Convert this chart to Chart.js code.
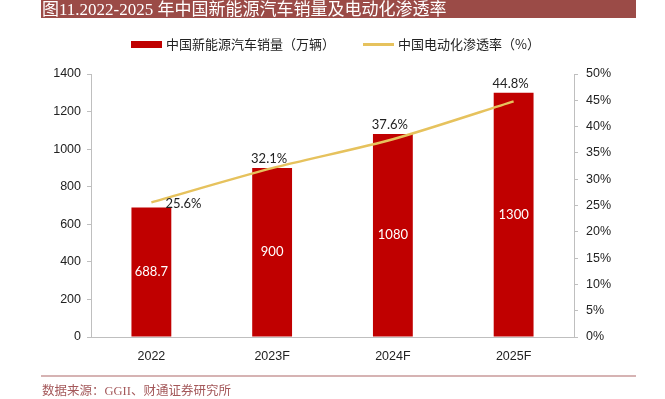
<!DOCTYPE html>
<html>
<head>
<meta charset="utf-8">
<script src="https://cdn.jsdelivr.net/npm/chart.js@4.4.0/dist/chart.umd.min.js"></script>
<style>
  html, body { margin: 0; padding: 0; background: #fff; }
  #wrap { width: 665px; height: 399px; position: relative; }
</style>
</head>
<body>
<div id="wrap"><canvas id="myChart" width="665" height="399"></canvas></div>
<script>
//Chart data
var years = ["2022", "2023F", "2024F", "2025F"];
var salesData = [688.7, 900, 1080, 1300];
var rateData = [25.6, 32.1, 37.6, 44.8];
var salesLabel = "中国新能源汽车销量（万辆）";
var rateLabel = "中国电动化渗透率（%）";
var titleText = "图11.2022-2025 年中国新能源汽车销量及电动化渗透率";
var sourceText = "数据来源：GGII、财通证券研究所";

var barColor = "#c00000";
var lineColor = "#e6c25d";
var axisColor = "#bfbfbf";

//Draws title bar, legend, source line and value labels
var decorPlugin = {
  id: "decor",
  afterDraw: function(chart){
    var ctx = chart.ctx;
    ctx.save();

    //title bar
    ctx.fillStyle = "#9b4b47";
    ctx.fillRect(41, 0, 595, 18);
    ctx.fillStyle = "#ffffff";
    ctx.font = "17px 'Liberation Serif', 'Noto Sans CJK SC', serif";
    ctx.textBaseline = "alphabetic";
    ctx.textAlign = "left";
    ctx.fillText(titleText, 42, 15);

    //legend
    ctx.font = "13px 'Noto Sans CJK SC', sans-serif";
    ctx.textBaseline = "middle";
    ctx.fillStyle = barColor;
    ctx.fillRect(131, 41, 31, 7);
    ctx.fillStyle = "#222";
    ctx.fillText(salesLabel, 166, 44.5);
    ctx.strokeStyle = lineColor;
    ctx.lineWidth = 3;
    ctx.beginPath();
    ctx.moveTo(363, 44.5);
    ctx.lineTo(394, 44.5);
    ctx.stroke();
    ctx.fillText(rateLabel, 398, 44.5);

    //source
    ctx.strokeStyle = "#c99a9a";
    ctx.lineWidth = 1.5;
    ctx.beginPath();
    ctx.moveTo(41, 376);
    ctx.lineTo(636, 376);
    ctx.stroke();
    ctx.fillStyle = "#a4585a";
    ctx.font = "12.5px 'Liberation Serif', 'Noto Sans CJK SC', serif";
    ctx.fillText(sourceText, 42, 392);

    //bar value labels
    var barMeta = chart.getDatasetMeta(1);
    ctx.font = "13px Lato, 'Open Sans', sans-serif";
    ctx.textAlign = "center";
    ctx.fillStyle = "#ffffff";
    barMeta.data.forEach(function(bar, i){
      ctx.fillText(String(salesData[i]), bar.x, (bar.y + bar.base) / 2);
    });

    //line value labels, kept above the bar top too
    var lineMeta = chart.getDatasetMeta(0);
    ctx.fillStyle = "#222";
    lineMeta.data.forEach(function(pt, i){
      var txt = rateData[i].toFixed(1) + "%";
      if(i == 0){
        ctx.textAlign = "left";
        ctx.fillText(txt, pt.x + 14, pt.y + 1);
      } else {
        var top = Math.min(pt.y, barMeta.data[i].y);
        ctx.textAlign = "center";
        ctx.fillText(txt, pt.x - 3, top - 9);
      }
    });

    ctx.restore();
  }
};

var tickFont = { family: "'Liberation Sans', Arial, sans-serif", size: 12.5 };

var ctxC = document.getElementById("myChart").getContext("2d");
var myChart = new Chart(ctxC, {
  type: "bar",
  data: {
    labels: years,
    datasets: [{
      type: "line",
      label: rateLabel,
      data: rateData,
      yAxisID: "y2",
      borderColor: lineColor,
      backgroundColor: lineColor,
      borderWidth: 2.5,
      pointRadius: 0,
      tension: 0.25,
      order: 0
    }, {
      type: "bar",
      label: salesLabel,
      data: salesData,
      yAxisID: "y",
      backgroundColor: barColor,
      barPercentage: 0.33,
      categoryPercentage: 1,
      order: 1
    }]
  },
  options: {
    responsive: false,
    animation: false,
    layout: { padding: { top: 74, left: 0, right: 0, bottom: 0 } },
    plugins: {
      legend: { display: false },
      tooltip: { enabled: false }
    },
    scales: {
      x: {
        grid: { display: false },
        border: { display: true, color: axisColor, width: 1 },
        ticks: { color: "#222", font: tickFont, padding: 4 },
        afterFit: function(scale){ scale.height = 62; }
      },
      y: {
        position: "left",
        min: 0,
        max: 1400,
        ticks: {
          stepSize: 200,
          color: "#222",
          font: tickFont,
          padding: 6,
          callback: function(v){ return String(v); }
        },
        grid: { drawOnChartArea: false, drawTicks: true, tickLength: 4, color: axisColor },
        border: { display: true, color: axisColor },
        afterFit: function(scale){ scale.width = 91; }
      },
      y2: {
        position: "right",
        min: 0,
        max: 50,
        ticks: {
          stepSize: 5,
          color: "#222",
          font: tickFont,
          padding: 8,
          callback: function(v){ return v + "%"; }
        },
        grid: { drawOnChartArea: false, drawTicks: true, tickLength: 4, color: axisColor },
        border: { display: true, color: axisColor },
        afterFit: function(scale){ scale.width = 91; }
      }
    }
  },
  plugins: [decorPlugin]
});
</script>
</body>
</html>
